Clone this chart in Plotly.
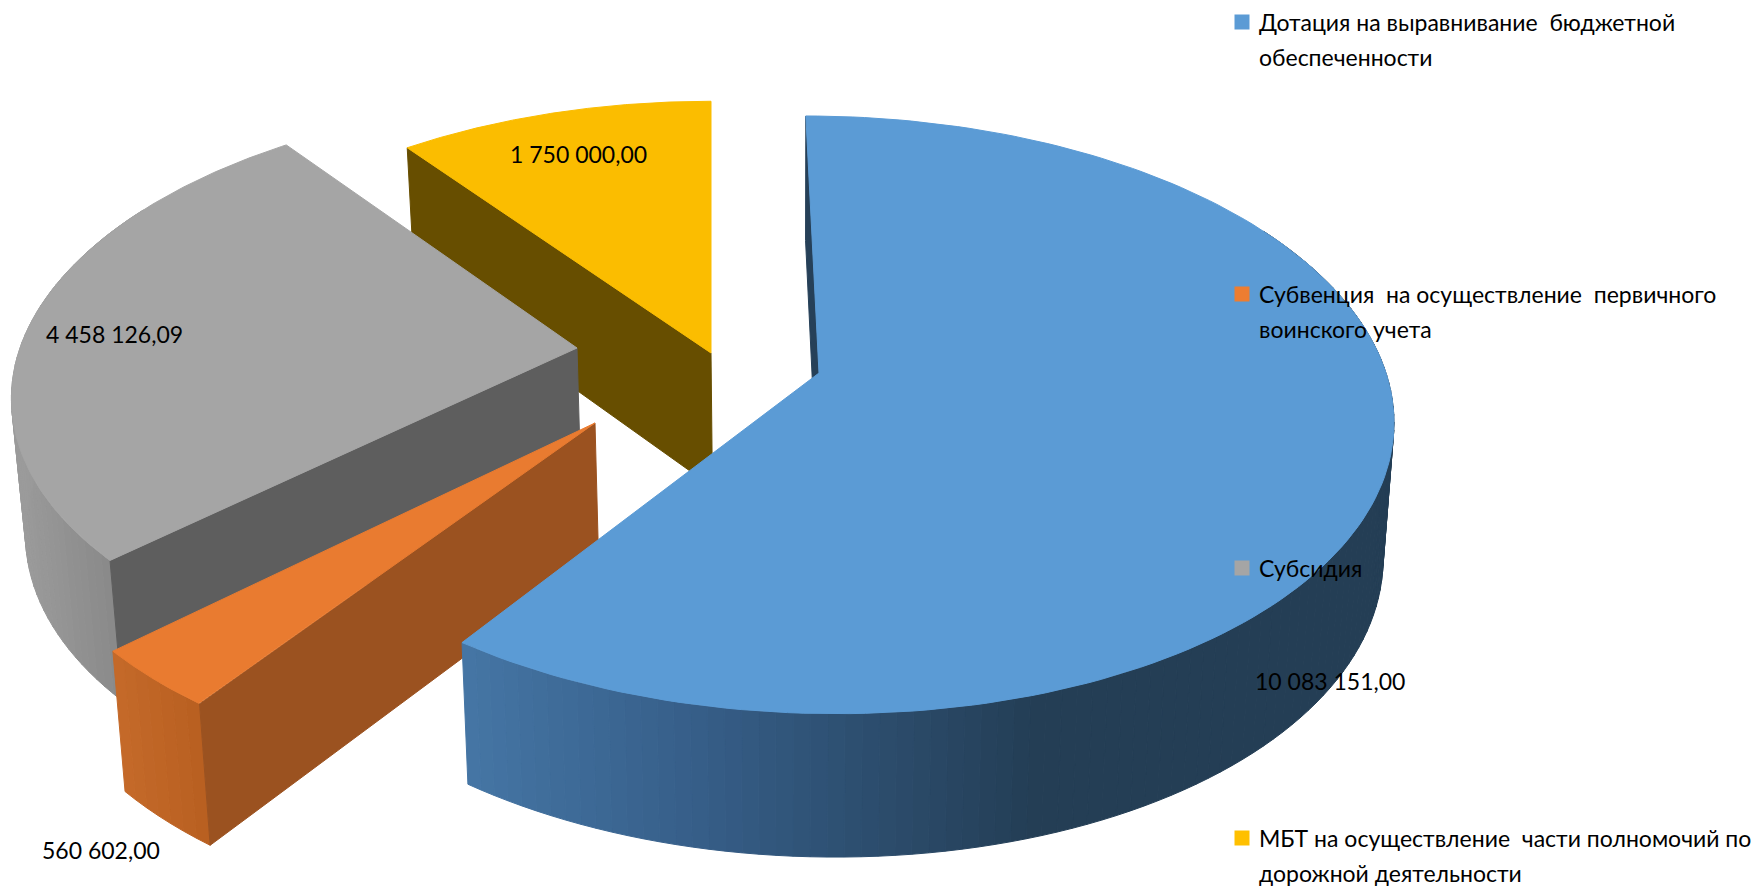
import numpy as np
import plotly.graph_objects as go

# ---- data ----
categories = ["Дотация на выравнивание бюджетной обеспеченности",
              "Субвенция на осуществление первичного воинского учета",
              "Субсидия",
              "МБТ на осуществление части полномочий по дорожной деятельности"]
values = [10083151.00, 560602.00, 4458126.09, 1750000.00]
value_labels = ["10 083 151,00", "560 602,00", "4 458 126,09", "1 750 000,00"]
legend_lines = [["Дотация на выравнивание  бюджетной", "обеспеченности"],
                ["Субвенция  на осуществление  первичного", "воинского учета"],
                ["Субсидия"],
                ["МБТ на осуществление  части полномочий по", "дорожной деятельности"]]

# ---- styles ----
top_colors = ["#5B9BD5", "#E97B30", "#A5A5A5", "#FBBD00"]
face_colors = ["#264058", "#9B5220", "#5E5E5E", "#674E00"]
rim_x = [[464, 700, 1040], [113, 200], [15, 110], [400, 700]]
rim_rgb = [[(70, 118, 165), (54, 94, 136), (36, 62, 85)],
           [(197, 106, 42), (184, 96, 33)],
           [(155, 155, 155), (138, 138, 138)],
           [(103, 78, 0), (103, 78, 0)]]

# ---- projection of the exploded slices (screen pixels of the 1763x891 page) ----
apex_x = [819, 595, 577, 711]
apex_y = [373, 423, 348, 353]
radius_x = [567, 571, 557, 556]
radius_y = [293, 305, 284, 287]
shear = [15, -24, -19, 0]
PERSP = 0.14
DEPTH = 134
VANISH_X = 790
SHRINK = 0.018
FONT = "Lato, 'Open Sans', sans-serif"
TEXT_SIZE = 23


def project(i, deg, r=1.0, lower=False):
    t = np.radians(deg)
    wx, wy = r * np.sin(t), -r * np.cos(t)
    w = 1 - PERSP * wy
    x = apex_x[i] + (radius_x[i] * wx + shear[i] * wy) / w
    y = apex_y[i] + radius_y[i] * wy / w
    if lower:
        x = x + (VANISH_X - x) * SHRINK
        y = y + DEPTH * (1 + 0.07 * wy)
    return x, y


def poly(fig, xs, ys, color):
    fig.add_trace(go.Scatter(x=xs, y=ys, mode="lines", fill="toself", fillcolor=color,
                             line=dict(color=color, width=1), hoverinfo="skip", showlegend=False))


fig = go.Figure()
shares = np.array(values) / sum(values) * 360
starts = np.concatenate([[0], np.cumsum(shares)[:-1]])
ends = np.cumsum(shares)

for i in [3, 2, 1, 0]:
    a0, a1 = starts[i], ends[i]
    arc = np.linspace(a0, a1, max(int((a1 - a0) / 1.5), 6) + 1)
    # outer rim, shaded segment by segment (the far side of the pie is never seen)
    for p, q in zip(arc[:-1], arc[1:]):
        if q < 60 or p > 300:
            continue
        x1, y1 = project(i, p)
        x2, y2 = project(i, q)
        x3, y3 = project(i, q, lower=True)
        x4, y4 = project(i, p, lower=True)
        xm = (x1 + x2) / 2
        rgb = [np.interp(xm, rim_x[i], [c[k] for c in rim_rgb[i]]) for k in range(3)]
        poly(fig, [x1, x2, x3, x4, x1], [y1, y2, y3, y4, y1],
             "rgb(%d,%d,%d)" % tuple(rgb))
    # cut face at the slice start
    x1, y1 = project(i, a0)
    x2, y2 = project(i, a0, r=0)
    x3, y3 = project(i, a0, r=0, lower=True)
    x4, y4 = project(i, a0, lower=True)
    poly(fig, [x1, x2, x3, x4, x1], [y1, y2, y3, y4, y1], face_colors[i])
    # top surface
    pts = [project(i, d) for d in np.linspace(a0, a1, 160)]
    cx, cy = project(i, 0, r=0)
    xs = [cx] + [p[0] for p in pts] + [cx]
    ys = [cy] + [p[1] for p in pts] + [cy]
    poly(fig, xs, ys, top_colors[i])

# legend keys
legend_y = [22, 294, 568, 838]
fig.add_trace(go.Scatter(x=[1242] * 4, y=legend_y, mode="markers",
                         marker=dict(symbol="square", size=15, color=["#5B9BD5", "#ED7D31", "#A5A5A5", "#FFC000"]),
                         hoverinfo="skip", showlegend=False))

annotations = []
for lines, y0 in zip(legend_lines, legend_y):
    for k, line in enumerate(lines):
        annotations.append(dict(x=1257, y=y0 + k * 35, text=line, xanchor="left", yanchor="middle",
                                showarrow=False, xref="x", yref="y",
                                font=dict(family=FONT, size=TEXT_SIZE, color="#000000")))
label_x = [1330, 101, 114, 578]
label_y = [681, 850, 334, 154]
for t, x, y in zip(value_labels, label_x, label_y):
    annotations.append(dict(x=x, y=y, text=t, xanchor="center", yanchor="middle", showarrow=False,
                            xref="x", yref="y", font=dict(family=FONT, size=TEXT_SIZE, color="#000000")))

fig.update_layout(width=1763, height=891, margin=dict(l=0, r=0, t=0, b=0),
                  paper_bgcolor="white", plot_bgcolor="white", showlegend=False,
                  xaxis=dict(range=[0, 1763], visible=False, fixedrange=True),
                  yaxis=dict(range=[891, 0], visible=False, fixedrange=True),
                  annotations=annotations)
fig.write_html("out.html", config=dict(displayModeBar=False),
               post_script="document.body.style.margin='0';document.body.style.overflow='hidden';")
